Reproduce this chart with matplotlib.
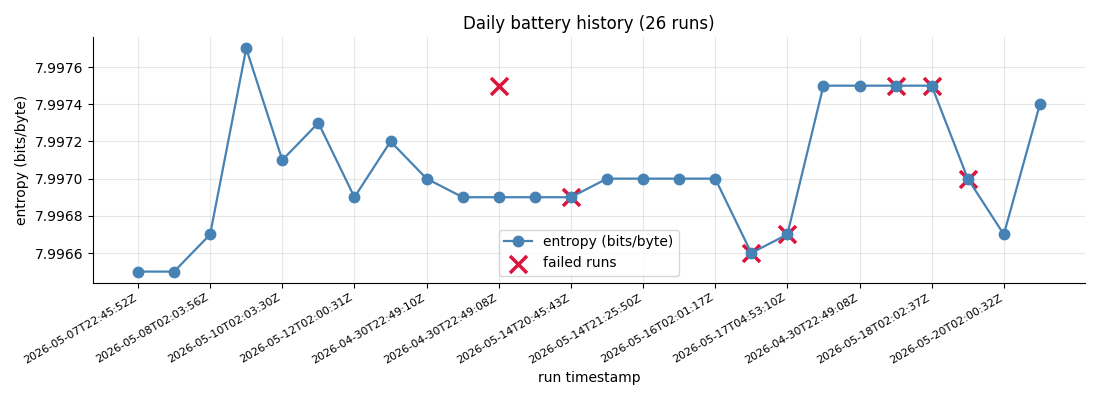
import matplotlib
matplotlib.use("Agg")
import matplotlib.pyplot as plt

run_index = list(range(26))
entropy = [7.9965, 7.9965, 7.9967, 7.9977, 7.9971, 7.9973, 7.9969, 7.9972, 7.9970,
           7.9969, 7.9969, 7.9969, 7.9969, 7.9970, 7.9970, 7.9970, 7.9970, 7.9966,
           7.9967, 7.9975, 7.9975, 7.9975, 7.9975, 7.9970, 7.9967, 7.9974]
failed_index = [10, 12, 17, 18, 21, 22, 23]
failed_entropy = [7.9975, 7.9969, 7.9966, 7.9967, 7.9975, 7.9975, 7.9970]
tick_positions = [0, 2, 4, 6, 8, 10, 12, 14, 16, 18, 20, 22, 24]
tick_labels = ["2026-05-07T22:45:52Z", "2026-05-08T02:03:56Z", "2026-05-10T02:03:30Z",
               "2026-05-12T02:00:31Z", "2026-04-30T22:49:10Z", "2026-04-30T22:49:08Z",
               "2026-05-14T20:45:43Z", "2026-05-14T21:25:50Z", "2026-05-16T02:01:17Z",
               "2026-05-17T04:53:10Z", "2026-04-30T22:49:08Z", "2026-05-18T02:02:37Z",
               "2026-05-20T02:00:32Z"]

fig, ax = plt.subplots(figsize=(11, 4), dpi=100)
ax.plot(run_index, entropy, color="steelblue", marker="o", markersize=7.5,
        linewidth=1.6, label="entropy (bits/byte)", zorder=3)
ax.scatter(failed_index, failed_entropy, marker="x", s=150, linewidths=2.5,
           color="crimson", label="failed runs", zorder=2)
ax.set_xticks(tick_positions)
ax.set_xticklabels(tick_labels, rotation=30, ha="right", fontsize=8)
ax.grid(True, alpha=0.3)
ax.spines["top"].set_visible(False)
ax.spines["right"].set_visible(False)
ax.set_title("Daily battery history (26 runs)")
ax.set_xlabel("run timestamp")
ax.set_ylabel("entropy (bits/byte)")
ax.legend(loc="lower center")
fig.tight_layout()
fig.savefig("out.png")
